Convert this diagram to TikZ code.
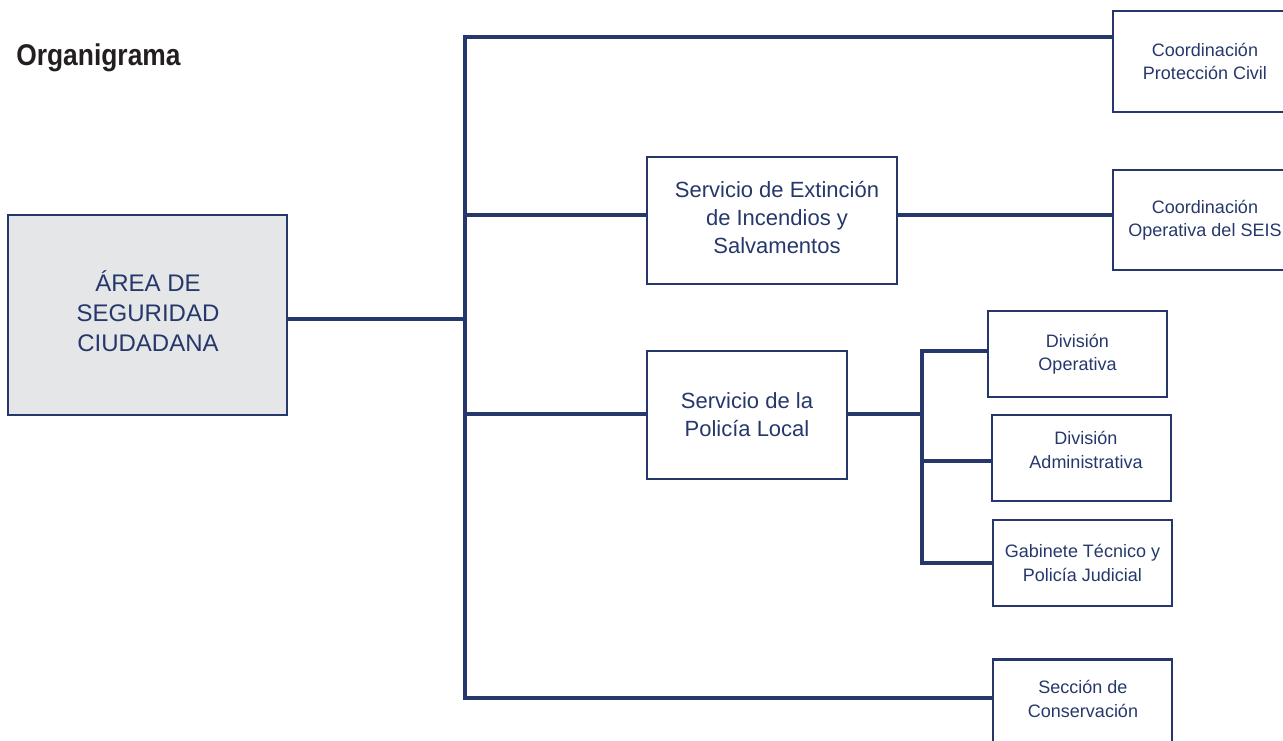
\documentclass[tikz,border=0pt]{standalone}
\usepackage{fontspec}
\setmainfont{Liberation Sans}
\newfontfamily\titlefont[FakeStretch=0.88]{Liberation Sans}
\definecolor{navy}{HTML}{26386B}
\definecolor{boxgray}{HTML}{E5E6E8}
\definecolor{titleink}{HTML}{231F20}
\tikzset{
  box/.style={draw=navy, line width=2pt, rectangle, inner sep=0pt, text=navy, align=center},
  boxtext/.style={text=navy, align=center, inner sep=0pt},
  bigtxt/.style={font=\fontsize{16.5}{21}\selectfont},
  smalltxt/.style={font=\fontsize{13.5}{17.5}\selectfont},
  areatxt/.style={font=\fontsize{18}{22.5}\selectfont},
  conn/.style={draw=navy, line width=3pt, line join=miter}
}
\begin{document}
\begin{tikzpicture}[x=0.75pt,y=-0.75pt]
\useasboundingbox (0,0) rectangle (1283,740);
% title
\node[anchor=base west, inner sep=0pt, text=titleink] (title) at (16,65) {\titlefont\bfseries\fontsize{22.5}{27}\selectfont Organigrama};
% boxes
\node[box, fill=boxgray, minimum width=209.25pt, minimum height=150pt] (area) at (147.5,315) {};
\node[boxtext, areatxt] (areatxt) at (148,311) {ÁREA DE\\SEGURIDAD\\CIUDADANA};
\node[box, smalltxt, minimum width=138pt, minimum height=75.75pt] (cpc) at (1205,61.5) {Coordinación\\Protección Civil};
\node[box, smalltxt, minimum width=138pt, minimum height=75pt] (coes) at (1205,220) {Coordinación\\Operativa del SEIS};
\node[box, minimum width=187.5pt, minimum height=95.25pt] (seis) at (772,220.5) {};
\node[boxtext, bigtxt] (seistxt) at (777,218) {Servicio de Extinción\\de Incendios y\\Salvamentos};
\node[box, bigtxt, minimum width=150pt, minimum height=96pt] (spl) at (747,415) {Servicio de la\\Policía Local};
\node[box, smalltxt, minimum width=134.25pt, minimum height=64.5pt] (dop) at (1077.5,354) {División\\Operativa};
\node[box, minimum width=134.25pt, minimum height=64.5pt] (dad) at (1081.5,458) {};
\node[boxtext, smalltxt] (dadtxt) at (1086,450) {División\\Administrativa};
\node[box, smalltxt, minimum width=134.25pt, minimum height=64.5pt] (gab) at (1082.5,563) {Gabinete Técnico y\\Policía Judicial};
\node[box, minimum width=134.25pt, minimum height=90pt, anchor=north] (sec) at (1082.5,658) {};
\node[boxtext, smalltxt] (sectxt) at (1083,699) {Sección de\\Conservación};
% connector coordinates
\coordinate (t0) at (465,37);
\coordinate (t1) at (465,215);
\coordinate (tm) at (465,319);
\coordinate (t2) at (465,414);
\coordinate (t4) at (465,698);
\coordinate (s1) at (922,351);
\coordinate (s0) at (922,414);
\coordinate (s2) at (922,461);
\coordinate (s3) at (922,563);
% connectors
\draw[conn] (cpc.west |- t0) -- (t0) -- (t4) -- (sec.west |- t4);
\draw[conn] (area.east |- tm) -- (tm);
\draw[conn] (t1) -- (seis.west |- t1);
\draw[conn] (seis.east |- t1) -- (coes.west |- t1);
\draw[conn] (t2) -- (spl.west |- t2);
\draw[conn] (spl.east |- s0) -- (s0);
\draw[conn] (dop.west |- s1) -- (s1) -- (s3) -- (gab.west |- s3);
\draw[conn] (s2) -- (dad.west |- s2);
\end{tikzpicture}
\end{document}
